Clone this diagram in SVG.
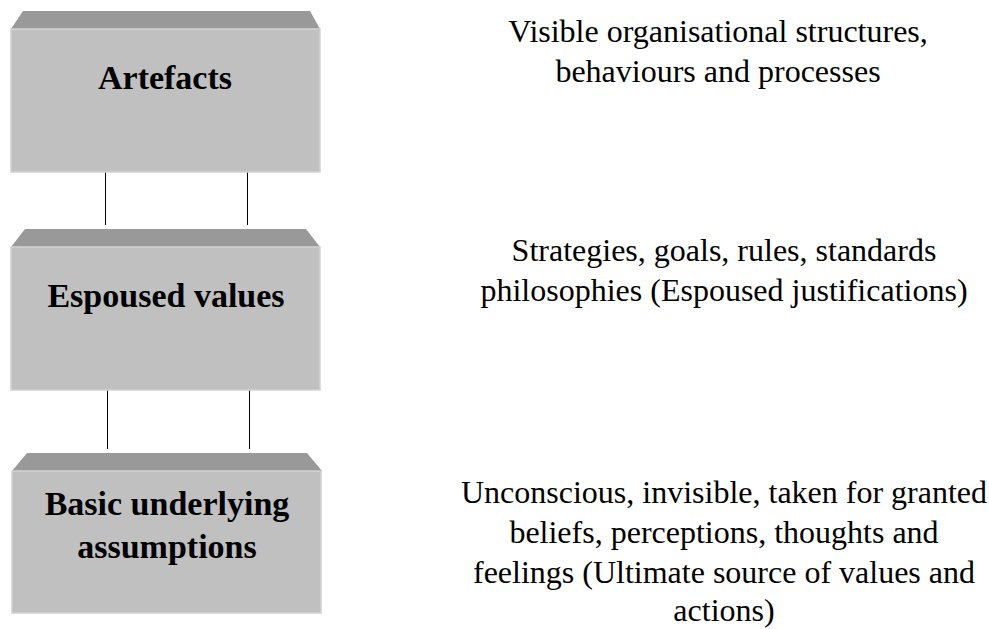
<svg xmlns="http://www.w3.org/2000/svg" width="989" height="629" viewBox="0 0 989 629">
<style>
.bevel{fill:#999999}
.face{fill:#c0c0c0;stroke:#d2d2d2;stroke-width:1.5}
.lbl{font-family:"Liberation Serif","Times New Roman",serif;font-weight:bold;font-size:34px;fill:#000;text-anchor:middle}
.desc{font-family:"Liberation Serif","Times New Roman",serif;font-size:32px;fill:#000;text-anchor:middle}
.conn{stroke:#000;stroke-width:1;fill:none}
</style>
<rect width="989" height="629" fill="#fff"/>
<g id="connectors">
<line class="conn" x1="105.5" y1="172" x2="105.5" y2="225"/>
<line class="conn" x1="247.5" y1="172" x2="247.5" y2="225"/>
<line class="conn" x1="107.5" y1="390" x2="107.5" y2="449"/>
<line class="conn" x1="249.5" y1="390" x2="249.5" y2="449"/>
</g>
<g id="artefacts">
<polygon class="bevel" points="23,11 310,11 320,29 11,29"/>
<rect class="face" x="11" y="29" width="309" height="143"/>
<text class="lbl" x="165" y="89">Artefacts</text>
</g>
<g id="espoused">
<polygon class="bevel" points="25,229 306,229 320,247 11,247"/>
<rect class="face" x="11" y="247" width="309" height="143"/>
<text class="lbl" x="166" y="307">Espoused values</text>
</g>
<g id="assumptions">
<polygon class="bevel" points="27,453 307,453 322,471 12,471"/>
<rect class="face" x="12" y="471" width="309" height="142"/>
<text class="lbl" x="167" y="515">Basic underlying</text>
<text class="lbl" x="167" y="558">assumptions</text>
</g>
<g id="desc-artefacts">
<text class="desc" x="718" y="42">Visible organisational structures,</text>
<text class="desc" x="718" y="82">behaviours and processes</text>
</g>
<g id="desc-espoused">
<text class="desc" x="724" y="261">Strategies, goals, rules, standards</text>
<text class="desc" x="724" y="301">philosophies (Espoused justifications)</text>
</g>
<g id="desc-assumptions">
<text class="desc" x="724" y="503">Unconscious, invisible, taken for granted</text>
<text class="desc" x="724" y="543">beliefs, perceptions, thoughts and</text>
<text class="desc" x="724" y="583">feelings (Ultimate source of values and</text>
<text class="desc" x="724" y="621">actions)</text>
</g>
</svg>
